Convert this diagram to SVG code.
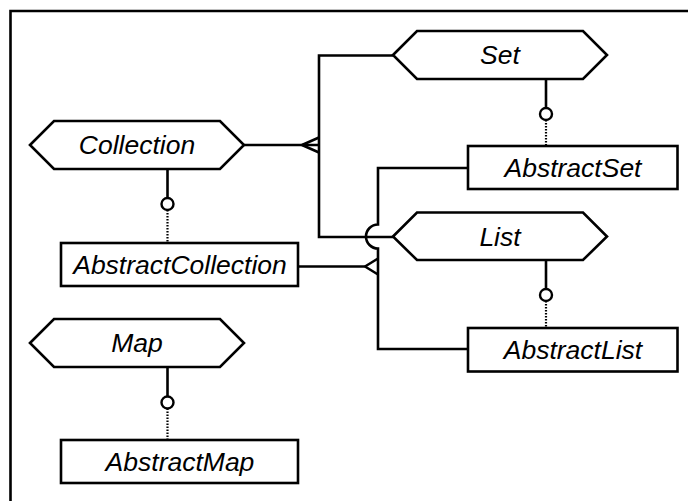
<svg xmlns="http://www.w3.org/2000/svg" width="688" height="501" viewBox="0 0 688 501">
<defs>
<style>
.shape{fill:#fff;stroke:#000;stroke-width:2.6;stroke-linejoin:miter}
.ln{fill:none;stroke:#000;stroke-width:2.6}
.dot{fill:none;stroke:#000;stroke-width:2.2;stroke-dasharray:1.5 1.5}
.circ{fill:#fff;stroke:#000;stroke-width:2.4}
.lbl{font-family:"Liberation Sans",Arial,sans-serif;font-style:italic;font-size:26.5px;text-anchor:middle;fill:#000}
</style>
</defs>
<rect width="688" height="501" fill="#fff"/>
<path class="ln" d="M10.5 501 V11 H688"/>
<g id="connectors">
<path class="ln" d="M244 145 H319"/>
<path class="ln" d="M302 145 L319 137.5 M302 145 L319 152.5"/>
<path class="ln" d="M393 55.5 H319 V237 H393"/>
<path class="ln" d="M468 168 H378 V224.5 A12 12 0 0 0 378 248.5 V349 H468"/>
<path class="ln" d="M298 266.5 H365"/>
<path class="ln" d="M365 266.5 L378 258.5 M365 266.5 L378 274.5"/>
<path class="ln" d="M167.5 169 V198"/>
<circle class="circ" cx="167.5" cy="204" r="6"/>
<path class="dot" d="M167.5 210 V243"/>
<path class="ln" d="M167.5 367 V396.5"/>
<circle class="circ" cx="167.5" cy="402.5" r="6"/>
<path class="dot" d="M167.5 408.5 V440"/>
<path class="ln" d="M546 79 V108"/>
<circle class="circ" cx="546" cy="114" r="6"/>
<path class="dot" d="M546 120 V146"/>
<path class="ln" d="M546 260 V289"/>
<circle class="circ" cx="546" cy="295" r="6"/>
<path class="dot" d="M546 301 V328"/>
</g>
<g id="Collection">
<polygon class="shape" points="30,145 54,121 220,121 244,145 220,169 54,169"/>
<text class="lbl" x="137" y="154">Collection</text>
</g>
<g id="AbstractCollection">
<rect class="shape" x="61" y="243" width="237" height="43"/>
<text class="lbl" x="180" y="273.5">AbstractCollection</text>
</g>
<g id="Map">
<polygon class="shape" points="30,343 54,319 220,319 244,343 220,367 54,367"/>
<text class="lbl" x="137" y="352">Map</text>
</g>
<g id="AbstractMap">
<rect class="shape" x="61" y="440" width="237" height="43"/>
<text class="lbl" x="180" y="470.5">AbstractMap</text>
</g>
<g id="Set">
<polygon class="shape" points="393,55 417,31 583,31 607,55 583,79 417,79"/>
<text class="lbl" x="500" y="64">Set</text>
</g>
<g id="AbstractSet">
<rect class="shape" x="468" y="146" width="209.5" height="43"/>
<text class="lbl" x="573" y="177">AbstractSet</text>
</g>
<g id="List">
<polygon class="shape" points="393,236.5 417,212.5 583,212.5 607,236.5 583,260 417,260"/>
<text class="lbl" x="500" y="245.5">List</text>
</g>
<g id="AbstractList">
<rect class="shape" x="468" y="328" width="209.5" height="43.5"/>
<text class="lbl" x="573" y="359">AbstractList</text>
</g>
</svg>
